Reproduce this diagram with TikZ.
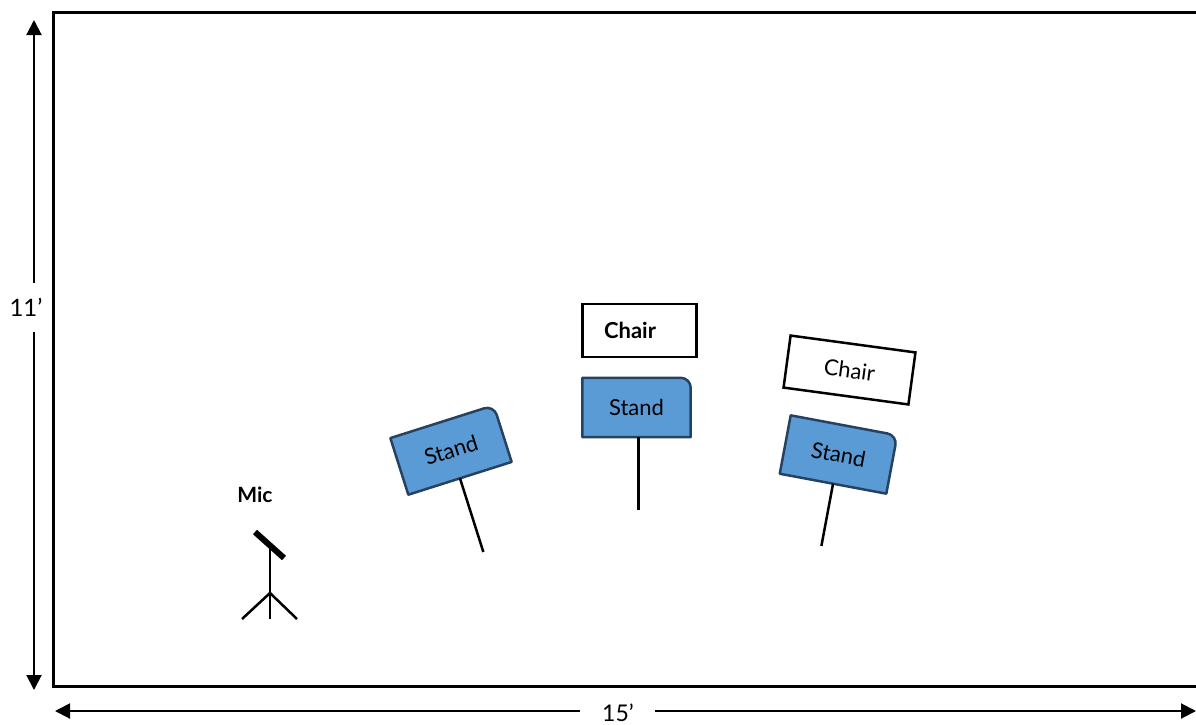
\documentclass[tikz,border=0pt]{standalone}
\usepackage{fontspec}
\setmainfont{Lato}
\usetikzlibrary{arrows.meta,backgrounds,calc}
\definecolor{standfill}{RGB}{91,155,213}
\definecolor{standline}{RGB}{38,66,96}
\begin{document}
\begin{tikzpicture}[x=1pt,y=-1pt,
  wall/.style={line width=3pt},
  dimline/.style={line width=2pt},
  dimtip/.style={dimline,-{Triangle[length=15pt,width=15pt]}},
  lbl/.style={inner sep=0pt,font=\fontsize{24}{28}\selectfont},
  standbox/.style={minimum width=108pt,minimum height=59pt,inner sep=0pt,font=\fontsize{22}{26}\selectfont},
  standshape/.style={draw=standline,fill=standfill,line width=2.5pt,line join=round},
  chairbox/.style={draw,line width=2.5pt,fill=white,inner sep=0pt,font=\fontsize{22}{26}\selectfont},
  stick/.style={line width=2.5pt},
  ]
\useasboundingbox (0,0) rectangle (1196,724);
% room walls
\coordinate (wtr) at (1196,12);
\coordinate (wtl) at (53,12);
\coordinate (wbl) at (53,686.5);
\coordinate (wbr) at (1196,686.5);
\draw[wall] (wtr) -- (wtl) -- (wbl) -- (wbr);
% vertical dimension
\node[lbl] (d11) at (26,307) {11’};
\coordinate (va) at (34,283);
\coordinate (vt) at (34,20);
\coordinate (vb0) at (34,332);
\coordinate (vb) at (34,690);
\draw[dimtip] (va) -- (vt);
\draw[dimtip] (vb0) -- (vb);
% horizontal dimension
\node[lbl,font=\fontsize{23}{27}\selectfont] (d15) at (618,713) {15’};
\coordinate (ha) at (580,711);
\coordinate (hl) at (55,711);
\coordinate (hb) at (655,711);
\coordinate (hr) at (1196,711);
\draw[dimtip] (ha) -- (hl);
\draw[dimtip] (hb) -- (hr);
% mic
\node[lbl,font=\bfseries\fontsize{21}{25}\selectfont] (miclab) at (255,495) {Mic};
\coordinate (mtop) at (270,546);
\coordinate (mjoint) at (270,593);
\coordinate (mbase) at (270,619);
\coordinate (mlegl) at (242,619);
\coordinate (mlegr) at (297,619);
\coordinate (mh1) at (255,532);
\coordinate (mh2) at (284,558);
\draw[stick] (mtop) -- (mbase);
\draw[stick] (mlegl) -- (mjoint) -- (mlegr);
\draw[line width=6pt] (mh1) -- (mh2);
% stand 1 (left)
\begin{scope}[shift={(451,450)},rotate=17.6,transform shape]
  \node[standbox] (s1) at (0,0) {Stand};
  \coordinate (s1foot) at (0,107);
\end{scope}
% stand 2 (centre)
\begin{scope}[shift={(636.5,407.5)}]
  \node[standbox] (s2) at (0,0) {Stand};
  \coordinate (s2foot) at (2,102);
\end{scope}
% stand 3 (right)
\begin{scope}[shift={(838.5,454.5)},rotate=-10.6,transform shape]
  \node[standbox] (s3) at (0,0) {Stand};
  \coordinate (s3foot) at (0,93);
\end{scope}
\begin{scope}[on background layer]
  \foreach \s in {s1,s2,s3}{
    \draw[standshape] (\s.south west) -- (\s.north west) [rounded corners=10pt] -- (\s.north east) [sharp corners] -- (\s.south east) -- cycle;
  }
\end{scope}
\draw[stick] (s1.south) -- (s1foot);
\draw[stick] ($(s2.south)+(2,0)$) -- (s2foot);
\draw[stick] (s3.south) -- (s3foot);
% chairs
\node[chairbox,minimum width=114pt,minimum height=53pt,font=\bfseries\fontsize{22}{26}\selectfont] (c1) at (639.5,330.5) {Chair\kern19pt\relax};
\begin{scope}[shift={(849.5,370)},rotate=-7.7,transform shape]
  \node[chairbox,minimum width=126pt,minimum height=52.5pt] (c2) at (0,0) {Chair};
\end{scope}
\end{tikzpicture}
\end{document}
